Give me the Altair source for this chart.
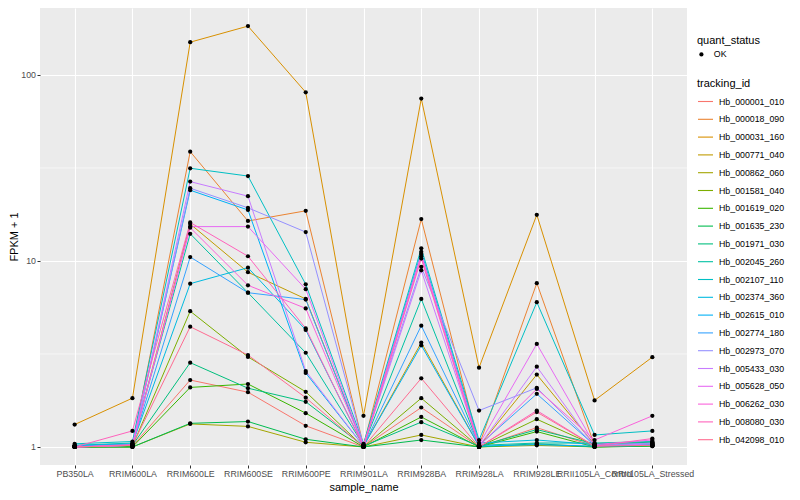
import altair as alt
import pandas as pd

samples = ["PB350LA", "RRIM600LA", "RRIM600LE", "RRIM600SE", "RRIM600PE",
           "RRIM901LA", "RRIM928BA", "RRIM928LA", "RRIM928LE",
           "RRII105LA_Control", "RRII105LA_Stressed"]

tracking_ids = ["Hb_000001_010", "Hb_000018_090", "Hb_000031_160", "Hb_000771_040",
                "Hb_000862_060", "Hb_001581_040", "Hb_001619_020", "Hb_001635_230",
                "Hb_001971_030", "Hb_002045_260", "Hb_002107_110", "Hb_002374_360",
                "Hb_002615_010", "Hb_002774_180", "Hb_002973_070", "Hb_005433_030",
                "Hb_005628_050", "Hb_006262_030", "Hb_008080_030", "Hb_042098_010"]

hue_colors = ["#F8766D", "#EA8331", "#D89000", "#C09B00", "#A3A500", "#7CAE00",
              "#39B600", "#00BB4E", "#00BF7D", "#00C1A3", "#00BFC4", "#00BAE0",
              "#00B0F6", "#35A2FF", "#9590FF", "#C77CFF", "#E76BF3", "#FA62DB",
              "#FF62BC", "#FF6C91"]

# FPKM + 1 per sample (order of `samples`)
hb_000001_010 = [1.00, 1.01, 2.29, 1.97, 1.30, 1.00, 1.63, 1.00, 1.27, 1.01, 1.02]
hb_000018_090 = [1.00, 1.02, 38.7, 16.4, 18.6, 1.02, 16.8, 1.02, 7.6, 1.02, 1.05]
hb_000031_160 = [1.32, 1.83, 150.0, 183.0, 80.7, 1.47, 74.6, 2.67, 17.7, 1.78, 3.04]
hb_000771_040 = [1.01, 1.03, 15.8, 8.7, 6.25, 1.01, 3.64, 1.01, 2.45, 1.03, 1.04]
hb_000862_060 = [1.00, 1.00, 1.33, 1.29, 1.06, 1.00, 1.16, 1.00, 1.02, 1.00, 1.01]
hb_001581_040 = [1.00, 1.01, 5.37, 3.05, 1.98, 1.00, 1.83, 1.00, 1.41, 1.02, 1.03]
hb_001619_020 = [1.00, 1.00, 2.09, 2.18, 1.52, 1.00, 1.45, 1.00, 1.21, 1.00, 1.02]
hb_001635_230 = [1.00, 1.00, 1.34, 1.37, 1.10, 1.00, 1.09, 1.00, 1.04, 1.00, 1.01]
hb_001971_030 = [1.01, 1.02, 2.84, 2.07, 1.75, 1.01, 1.36, 1.01, 1.24, 1.04, 1.06]
hb_002045_260 = [1.02, 1.05, 14.0, 6.75, 3.21, 1.02, 6.25, 1.02, 1.05, 1.05, 1.07]
hb_002107_110 = [1.04, 1.07, 31.5, 28.6, 7.49, 1.04, 11.7, 1.09, 6.0, 1.16, 1.22]
hb_002374_360 = [1.02, 1.04, 7.55, 9.2, 4.26, 1.01, 11.2, 1.05, 1.09, 1.03, 1.04]
hb_002615_010 = [1.01, 1.03, 24.0, 18.8, 2.50, 1.01, 3.52, 1.01, 1.03, 1.01, 1.02]
hb_002774_180 = [1.01, 1.03, 10.5, 6.75, 6.20, 1.01, 4.49, 1.02, 1.93, 1.02, 1.03]
hb_002973_070 = [1.00, 1.02, 24.6, 19.3, 14.3, 1.02, 9.3, 1.57, 2.08, 1.02, 1.05]
hb_005433_030 = [1.00, 1.02, 26.7, 22.3, 2.56, 1.01, 8.9, 1.01, 2.70, 1.01, 1.04]
hb_005628_050 = [1.00, 1.02, 15.3, 15.3, 7.05, 1.01, 10.9, 1.03, 3.58, 1.03, 1.09]
hb_006262_030 = [1.00, 1.03, 15.1, 7.4, 5.56, 1.01, 10.6, 1.01, 2.05, 1.09, 1.47]
hb_008080_030 = [1.00, 1.22, 16.1, 10.6, 4.34, 1.00, 10.3, 1.00, 1.57, 1.01, 1.11]
hb_042098_010 = [1.00, 1.02, 4.43, 3.12, 1.84, 1.00, 2.34, 1.00, 1.54, 1.01, 1.02]

series = [hb_000001_010, hb_000018_090, hb_000031_160, hb_000771_040, hb_000862_060,
          hb_001581_040, hb_001619_020, hb_001635_230, hb_001971_030, hb_002045_260,
          hb_002107_110, hb_002374_360, hb_002615_010, hb_002774_180, hb_002973_070,
          hb_005433_030, hb_005628_050, hb_006262_030, hb_008080_030, hb_042098_010]

rows = []
for tid, vals in zip(tracking_ids, series):
    for i, (s, v) in enumerate(zip(samples, vals)):
        rows.append({"tracking_id": tid, "sample_name": s, "idx": i,
                     "fpkm1": v, "quant_status": "OK"})
df = pd.DataFrame(rows)

minor_breaks = pd.DataFrame({"m": [10 ** 0.5, 10 ** 1.5]})

FONT = "Liberation Sans"

x_enc = alt.X("sample_name:N", sort=samples,
              scale=alt.Scale(type="point", padding=0.6),
              axis=alt.Axis(title="sample_name", labelAngle=0, labelOverlap=False))
y_scale = alt.Scale(type="log", domain=[0.80, 229], nice=False)
y_enc = alt.Y("fpkm1:Q", scale=y_scale,
              axis=alt.Axis(title="FPKM + 1", values=[1, 10, 100], format="~g",
                            titlePadding=1))

minor = alt.Chart(minor_breaks).mark_rule(color="white", strokeWidth=0.55).encode(
    y=alt.Y("m:Q", scale=y_scale)
)

lines = alt.Chart(df).mark_line(strokeWidth=1).encode(
    x=x_enc,
    y=y_enc,
    color=alt.Color("tracking_id:N",
                    scale=alt.Scale(domain=tracking_ids, range=hue_colors),
                    legend=alt.Legend(title="tracking_id", orient="none",
                                      legendX=657, legendY=70,
                                      symbolType="stroke", symbolStrokeWidth=1.1,
                                      symbolSize=225, rowPadding=3.8,
                                      titlePadding=4, labelOffset=5)),
    detail="tracking_id:N",
    order="idx:Q",
)

points = alt.Chart(df).mark_point(filled=True, color="black", size=18, opacity=1).encode(
    x=x_enc,
    y=y_enc,
    shape=alt.Shape("quant_status:N", scale=alt.Scale(range=["circle"]),
                    legend=alt.Legend(title="quant_status", orient="none",
                                      legendX=657, legendY=27,
                                      symbolFillColor="black", symbolStrokeColor="black",
                                      symbolSize=18, titlePadding=4, labelOffset=8)),
)

chart = alt.layer(minor, lines, points).properties(
    width=647, height=457,
    autosize=alt.AutoSizeParams(type="none"),
    padding={"left": 32, "top": 0, "right": 105, "bottom": 28},
).configure_view(
    fill="#EBEBEB", stroke=None
).configure_axis(
    labelFont=FONT, labelFontSize=8.8, labelColor="#4D4D4D",
    titleFont=FONT, titleFontSize=11, titleColor="black", titleFontWeight="normal",
    tickColor="#333333", tickSize=3, tickWidth=1,
    domain=False, grid=True, gridColor="white", gridWidth=1.1,
    labelPadding=1.5, titlePadding=3,
).configure_legend(
    labelFont=FONT, labelFontSize=8.8, labelColor="black",
    titleFont=FONT, titleFontSize=11, titleColor="black", titleFontWeight="normal",
)

chart.save("out.html", embed_options={"renderer": "svg", "actions": False})
